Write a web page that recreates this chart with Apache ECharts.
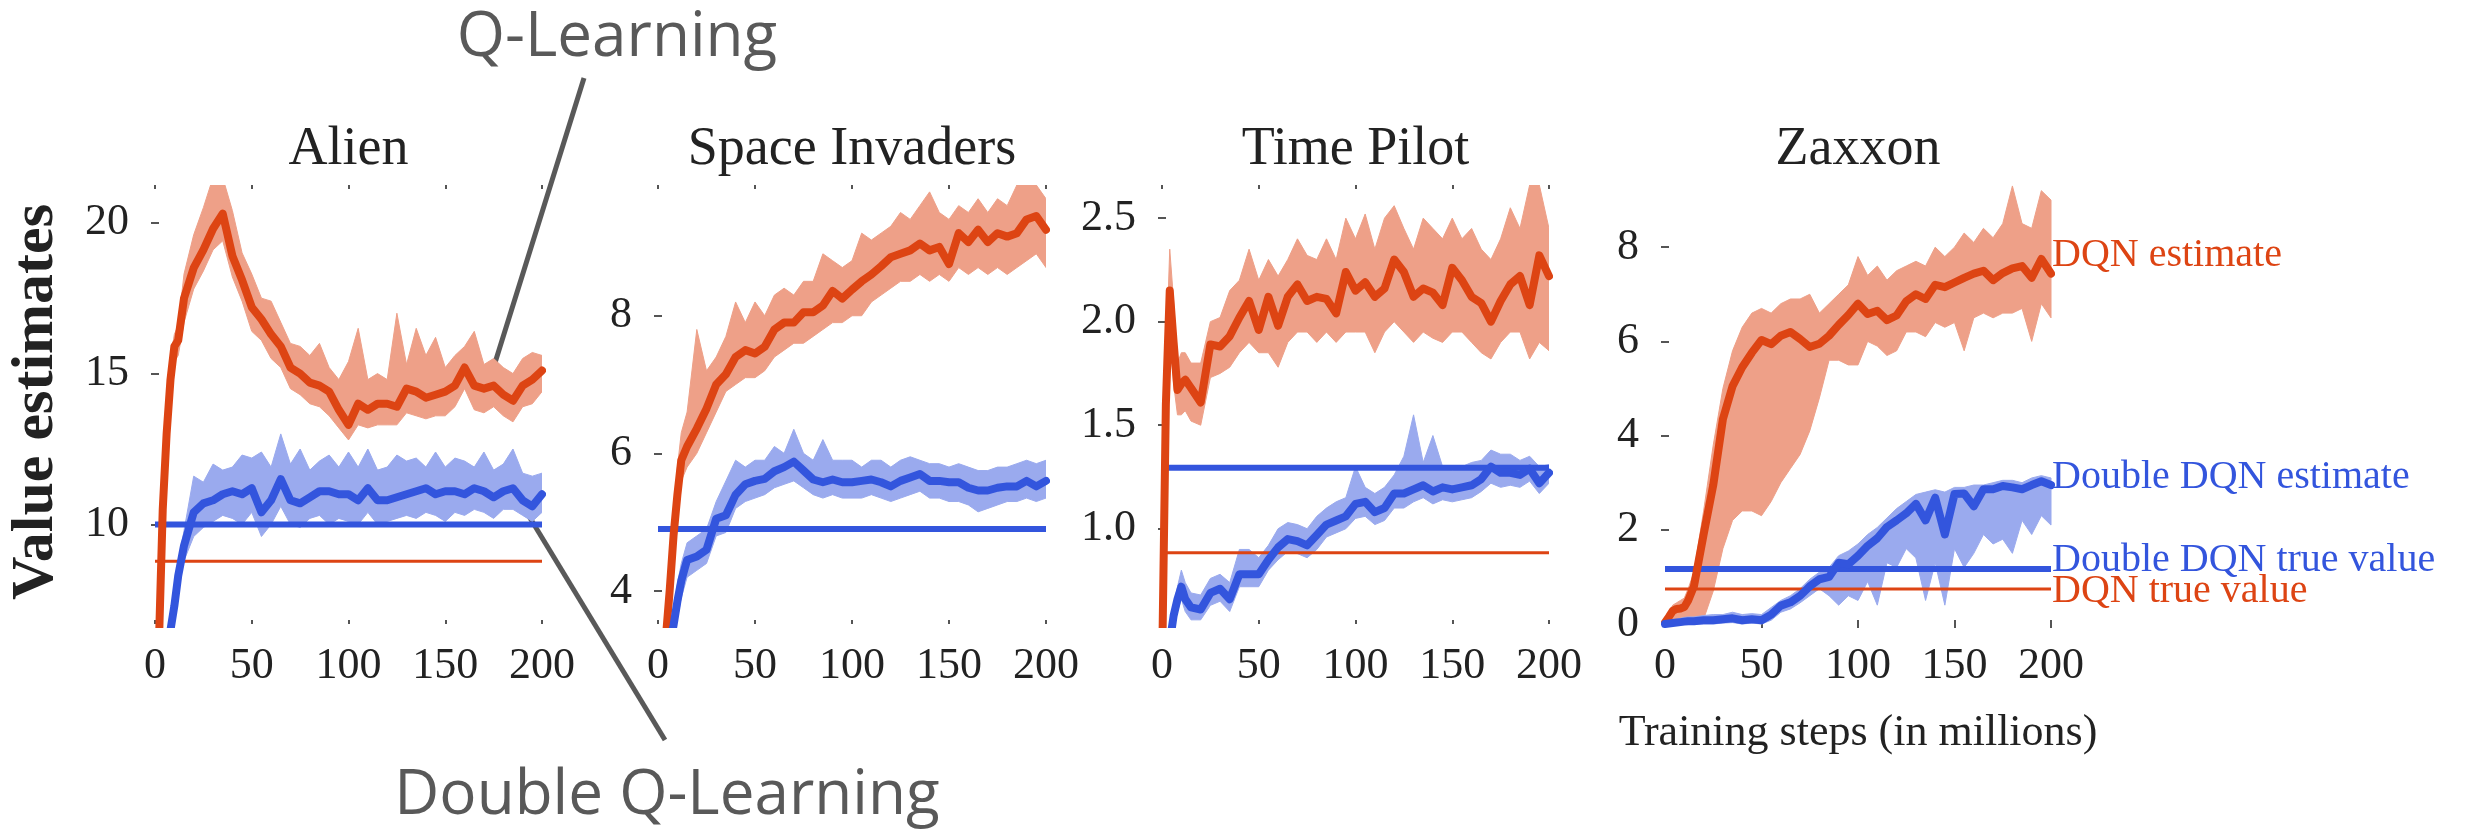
<!DOCTYPE html>
<html>
<head>
<meta charset="utf-8">
<title>Value estimates</title>
<script src="https://cdn.jsdelivr.net/npm/echarts@6/dist/echarts.min.js"></script>
<style>
  html, body { margin: 0; padding: 0; background: #fff; }
  #chart { width: 2474px; height: 834px; }
</style>
</head>
<body>
<div id="chart"></div>
<script>
// training steps (millions), shared by every curve
var steps = [0, 2, 4, 6, 8, 10, 12, 15,
  20, 25, 30, 35, 40, 45, 50, 55, 60,
  65, 70, 75, 80, 85, 90, 95, 100, 105,
  110, 115, 120, 125, 130, 135, 140, 145, 150,
  155, 160, 165, 170, 175, 180, 185, 190, 195, 200];

// Alien
var alienDqn = [2, 6.0, 10.5, 13.0, 14.8, 15.9, 16.1, 17.5,
  18.5, 19.1, 19.8, 20.3, 18.9, 18.1, 17.2, 16.8, 16.3,
  15.9, 15.2, 15.0, 14.7, 14.6, 14.4, 13.8, 13.3, 14.0,
  13.8, 14.0, 14.0, 13.9, 14.5, 14.4, 14.2, 14.3, 14.4,
  14.6, 15.2, 14.6, 14.5, 14.6, 14.3, 14.1, 14.6, 14.8, 15.1];
var alienDqnHi = [2.5, 6.5, 11.0, 13.7, 15.5, 16.3, 16.6, 18.3,
  19.6, 20.5, 21.5, 21.5, 20.4, 19.0, 18.3, 17.5, 17.4,
  16.7, 16.0, 15.9, 15.6, 16.0, 15.2, 14.8, 15.4, 16.5,
  14.8, 15.0, 14.8, 17.0, 15.3, 16.5, 15.6, 16.2, 15.2,
  15.6, 15.9, 16.4, 15.3, 15.5, 15.2, 15.0, 15.5, 15.7, 15.6];
var alienDqnLo = [1.5, 5.5, 10.0, 12.5, 14.2, 15.4, 15.6, 16.7,
  17.8, 18.4, 19.1, 19.4, 18.2, 17.4, 16.4, 16.1, 15.5,
  15.2, 14.5, 14.3, 14.0, 13.9, 13.6, 13.2, 12.8, 13.3,
  13.2, 13.3, 13.3, 13.3, 13.7, 13.6, 13.5, 13.6, 13.6,
  13.9, 14.5, 13.8, 13.7, 13.9, 13.6, 13.4, 13.9, 14.0, 14.4];
var alienDouble = [3, 4, 5, 5.8, 6.5, 7.3, 8.3, 9.3,
  10.4, 10.7, 10.8, 11.0, 11.1, 11.0, 11.2, 10.4, 10.8,
  11.5, 10.8, 10.7, 10.9, 11.1, 11.1, 11.0, 11.0, 10.8,
  11.2, 10.8, 10.8, 10.9, 11.0, 11.1, 11.2, 11.0, 11.1,
  11.1, 11.0, 11.2, 11.1, 10.9, 11.1, 11.2, 10.8, 10.6, 11.0];
var alienDoubleHi = [3.3, 4.3, 5.3, 6.1, 6.8, 7.6, 8.7, 9.8,
  11.6, 11.4, 12.0, 11.8, 11.9, 12.3, 12.2, 12.4, 11.9,
  13.0, 12.0, 12.5, 11.8, 12.1, 12.3, 11.9, 12.4, 11.9,
  12.5, 11.8, 11.9, 12.3, 12.1, 12.2, 11.9, 12.4, 11.9,
  12.2, 12.1, 11.9, 12.4, 11.8, 12.0, 12.5, 11.7, 11.6, 11.7];
var alienDoubleLo = [2.7, 3.7, 4.7, 5.5, 6.2, 7.0, 7.9, 8.8,
  9.6, 9.9, 10.1, 10.3, 10.2, 10.0, 10.4, 9.6, 10.0,
  10.6, 10.0, 9.9, 10.2, 10.3, 10.0, 10.2, 10.1, 10.0,
  10.4, 10.0, 10.1, 10.2, 10.3, 10.2, 10.4, 10.3, 10.1,
  10.4, 10.3, 10.5, 10.4, 10.2, 10.5, 10.5, 10.3, 10.1, 10.4];
var alienDqnTrue = 8.78;
var alienDoubleTrue = 10.0;
var alienYTicks = [10, 15, 20];

// Space Invaders
var invadersDqn = [1.5, 2.5, 3.3, 4.0, 4.8, 5.4, 5.9, 6.1,
  6.36, 6.65, 7.0, 7.15, 7.4, 7.5, 7.45, 7.55, 7.8,
  7.9, 7.9, 8.05, 8.05, 8.15, 8.36, 8.25, 8.38, 8.5,
  8.6, 8.72, 8.85, 8.9, 8.95, 9.05, 8.95, 9.0, 8.75,
  9.2, 9.07, 9.25, 9.07, 9.2, 9.15, 9.2, 9.4, 9.45, 9.25];
var invadersDqnHi = [1.8, 2.8, 3.6, 4.3, 5.1, 5.8, 6.3, 6.6,
  7.8, 7.2, 7.4, 7.7, 8.2, 7.9, 8.2, 8.0, 8.3,
  8.4, 8.3, 8.5, 8.5, 8.9, 8.8, 8.7, 8.8, 9.2,
  9.1, 9.2, 9.3, 9.5, 9.4, 9.6, 9.8, 9.5, 9.4,
  9.6, 9.5, 9.7, 9.5, 9.7, 9.6, 9.9, 9.9, 9.9, 9.7];
var invadersDqnLo = [1.2, 2.2, 3.0, 3.7, 4.5, 5.1, 5.6, 5.8,
  6.0, 6.3, 6.6, 6.9, 7.0, 7.1, 7.1, 7.2, 7.4,
  7.5, 7.6, 7.6, 7.7, 7.8, 7.9, 7.9, 8.0, 8.0,
  8.2, 8.3, 8.4, 8.5, 8.5, 8.6, 8.5, 8.6, 8.5,
  8.7, 8.6, 8.7, 8.6, 8.7, 8.6, 8.7, 8.8, 8.9, 8.7];
var invadersDouble = [1.5, 2.2, 2.8, 3.2, 3.5, 3.85, 4.15, 4.45,
  4.5, 4.6, 5.05, 5.1, 5.4, 5.55, 5.6, 5.63, 5.74,
  5.8, 5.88, 5.75, 5.62, 5.58, 5.62, 5.58, 5.58, 5.6,
  5.62, 5.58, 5.52, 5.6, 5.65, 5.7, 5.6, 5.6, 5.58,
  5.58, 5.5, 5.46, 5.46, 5.5, 5.52, 5.52, 5.6, 5.52, 5.6];
var invadersDoubleHi = [1.7, 2.4, 3.0, 3.4, 3.7, 4.1, 4.4, 4.7,
  4.8, 4.9, 5.3, 5.6, 5.9, 5.8, 5.9, 5.9, 6.1,
  6.0, 6.35, 6.0, 5.9, 6.2, 5.9, 5.9, 5.9, 5.8,
  5.9, 5.9, 5.8, 5.9, 5.95, 5.9, 5.85, 5.85, 5.8,
  5.85, 5.8, 5.75, 5.75, 5.8, 5.8, 5.85, 5.9, 5.85, 5.9];
var invadersDoubleLo = [1.3, 2.0, 2.6, 3.0, 3.3, 3.6, 3.9, 4.2,
  4.3, 4.4, 4.8, 4.85, 5.2, 5.3, 5.35, 5.4, 5.5,
  5.55, 5.6, 5.5, 5.4, 5.35, 5.4, 5.35, 5.35, 5.35,
  5.4, 5.35, 5.3, 5.35, 5.4, 5.45, 5.35, 5.35, 5.3,
  5.3, 5.25, 5.15, 5.2, 5.25, 5.3, 5.3, 5.35, 5.3, 5.35];
var invadersDqnTrue = 4.88;
var invadersDoubleTrue = 4.9;
var invadersYTicks = [4, 6, 8];

// Time Pilot
var pilotDqn = [0.3, 1.6, 2.15, 1.9, 1.67, 1.7, 1.72, 1.68,
  1.61, 1.89, 1.88, 1.93, 2.02, 2.1, 1.96, 2.12, 1.98,
  2.12, 2.18, 2.1, 2.12, 2.11, 2.04, 2.24, 2.15, 2.19,
  2.12, 2.16, 2.3, 2.24, 2.12, 2.16, 2.14, 2.08, 2.26,
  2.2, 2.12, 2.09, 2.0, 2.1, 2.18, 2.22, 2.08, 2.32, 2.22];
var pilotDqnHi = [0.4, 1.8, 2.35, 2.1, 1.8, 1.85, 1.85, 1.8,
  1.8, 2.0, 2.02, 2.15, 2.2, 2.35, 2.2, 2.3, 2.22,
  2.3, 2.4, 2.32, 2.3, 2.4, 2.3, 2.5, 2.4, 2.52,
  2.35, 2.5, 2.56, 2.45, 2.35, 2.5, 2.45, 2.4, 2.5,
  2.4, 2.45, 2.35, 2.3, 2.4, 2.55, 2.45, 2.66, 2.66, 2.45];
var pilotDqnLo = [0.2, 1.4, 1.95, 1.7, 1.55, 1.55, 1.57, 1.52,
  1.5, 1.73, 1.75, 1.78, 1.85, 1.9, 1.85, 1.85, 1.78,
  1.9, 1.95, 1.95, 1.9, 1.95, 1.9, 1.95, 1.95, 1.95,
  1.85, 1.95, 2.0, 1.95, 1.9, 1.95, 1.92, 1.9, 1.95,
  1.95, 1.9, 1.85, 1.82, 1.9, 1.95, 1.95, 1.82, 1.9, 1.86];
var pilotDouble = [0.2, 0.3, 0.45, 0.58, 0.66, 0.72, 0.66, 0.62,
  0.61, 0.69, 0.71, 0.66, 0.78, 0.78, 0.78, 0.85, 0.91,
  0.95, 0.94, 0.92, 0.97, 1.02, 1.04, 1.06, 1.12, 1.13,
  1.08, 1.1, 1.17, 1.17, 1.19, 1.21, 1.18, 1.2, 1.19,
  1.2, 1.21, 1.24, 1.3, 1.27, 1.27, 1.26, 1.29, 1.22, 1.27];
var pilotDoubleHi = [0.25, 0.35, 0.5, 0.63, 0.72, 0.8, 0.74, 0.69,
  0.68, 0.76, 0.78, 0.74, 0.9, 0.9, 0.86, 0.92, 1.0,
  1.03, 1.02, 1.0, 1.06, 1.1, 1.13, 1.15, 1.3, 1.2,
  1.17, 1.2, 1.26, 1.35, 1.55, 1.32, 1.45, 1.3, 1.28,
  1.3, 1.32, 1.33, 1.38, 1.36, 1.36, 1.33, 1.35, 1.3, 1.31];
var pilotDoubleLo = [0.15, 0.25, 0.4, 0.53, 0.6, 0.66, 0.6, 0.56,
  0.56, 0.63, 0.65, 0.6, 0.72, 0.72, 0.72, 0.8, 0.85,
  0.89, 0.88, 0.86, 0.9, 0.96, 0.98, 1.0, 1.05, 1.06,
  1.02, 1.04, 1.1, 1.1, 1.13, 1.15, 1.12, 1.14, 1.13,
  1.14, 1.15, 1.18, 1.22, 1.2, 1.21, 1.2, 1.23, 1.17, 1.22];
var pilotDqnTrue = 0.884;
var pilotDoubleTrue = 1.295;
var pilotYTicks = [1.0, 1.5, 2.0, 2.5];

// Zaxxon
var zaxxonDqn = [0.03, 0.15, 0.28, 0.32, 0.33, 0.36, 0.5, 0.8,
  1.9, 2.95, 4.35, 5.05, 5.45, 5.76, 6.03, 5.94, 6.12,
  6.2, 6.05, 5.88, 5.95, 6.12, 6.35, 6.56, 6.8, 6.58,
  6.65, 6.45, 6.55, 6.85, 7.0, 6.9, 7.2, 7.15, 7.25,
  7.35, 7.44, 7.5, 7.3, 7.45, 7.55, 7.6, 7.35, 7.75, 7.44];
var zaxxonDqnHi = [0.1, 0.25, 0.4, 0.45, 0.5, 0.55, 0.75, 1.1,
  2.4, 3.8, 5.0, 5.8, 6.3, 6.6, 6.7, 6.6, 6.8,
  6.9, 6.9, 7.0, 6.6, 6.8, 7.0, 7.2, 7.8, 7.4,
  7.6, 7.3, 7.5, 7.6, 7.7, 7.6, 8.0, 7.8, 8.0,
  8.3, 8.1, 8.4, 8.2, 8.5, 9.3, 8.5, 8.4, 9.2, 9.0];
var zaxxonDqnLo = [0.0, 0.05, 0.1, 0.1, 0.1, 0.1, 0.05, 0.05,
  0.1, 0.7, 1.6, 2.2, 2.4, 2.4, 2.3, 2.6, 3.0,
  3.3, 3.6, 4.1, 4.8, 5.6, 5.6, 5.5, 5.5, 6.0,
  5.9, 5.7, 5.8, 6.2, 6.2, 6.1, 6.4, 6.3, 6.4,
  5.8, 6.5, 6.6, 6.5, 6.6, 6.6, 6.7, 6.0, 6.8, 6.5];
var zaxxonDouble = [0.0, 0.01, 0.02, 0.03, 0.04, 0.05, 0.06, 0.06,
  0.08, 0.08, 0.1, 0.12, 0.08, 0.1, 0.08, 0.2, 0.39,
  0.46, 0.6, 0.8, 0.95, 1.0, 1.3, 1.27, 1.45, 1.66,
  1.82, 2.06, 2.2, 2.35, 2.55, 2.2, 2.68, 1.9, 2.76,
  2.77, 2.5, 2.86, 2.86, 2.93, 2.9, 2.86, 2.95, 3.03, 2.95];
var zaxxonDoubleHi = [0.05, 0.06, 0.08, 0.1, 0.12, 0.14, 0.15, 0.15,
  0.18, 0.2, 0.2, 0.25, 0.2, 0.22, 0.2, 0.35, 0.5,
  0.6, 0.75, 0.95, 1.1, 1.2, 1.45, 1.55, 1.7, 1.9,
  2.05, 2.25, 2.45, 2.6, 2.75, 2.8, 2.85, 2.8, 2.9,
  2.9, 2.95, 2.95, 3.0, 3.05, 3.05, 3.0, 3.1, 3.15, 3.1];
var zaxxonDoubleLo = [0, 0, 0, 0, 0, 0, 0, 0,
  0, 0, 0.02, 0.03, 0, 0.02, 0, 0.08, 0.25,
  0.32, 0.45, 0.6, 0.75, 0.6, 0.4, 0.6, 0.5, 0.9,
  0.4, 1.3, 1.2, 1.6, 1.4, 0.5, 1.3, 0.4, 1.6,
  1.2, 1.5, 1.9, 1.7, 1.8, 1.5, 2.2, 1.9, 2.3, 2.1];
var zaxxonDqnTrue = 0.745;
var zaxxonDoubleTrue = 1.17;
var zaxxonYTicks = [0, 2, 4, 6, 8];

var RED = '#dd4413';
var RED_LIGHT = '#eea088';
var BLUE = '#3355dd';
var BLUE_LIGHT = '#9aaaee';
var INK = '#222';
var SERIF = '"Liberation Serif", "DejaVu Serif", serif';

var panels = [
  { title: 'Alien', left: 155, width: 387, min: 6.7, max: 21.25, yTicks: alienYTicks,
    dqn: alienDqn, dqnHi: alienDqnHi, dqnLo: alienDqnLo,
    dbl: alienDouble, dblHi: alienDoubleHi, dblLo: alienDoubleLo,
    dqnTrue: alienDqnTrue, dblTrue: alienDoubleTrue, clip: true },
  { title: 'Space Invaders', left: 658, width: 388, min: 3.52, max: 9.9, yTicks: invadersYTicks,
    dqn: invadersDqn, dqnHi: invadersDqnHi, dqnLo: invadersDqnLo,
    dbl: invadersDouble, dblHi: invadersDoubleHi, dblLo: invadersDoubleLo,
    dqnTrue: invadersDqnTrue, dblTrue: invadersDoubleTrue, clip: true },
  { title: 'Time Pilot', left: 1162, width: 387, min: 0.54, max: 2.66, yTicks: pilotYTicks, decimals: 1,
    dqn: pilotDqn, dqnHi: pilotDqnHi, dqnLo: pilotDqnLo,
    dbl: pilotDouble, dblHi: pilotDoubleHi, dblLo: pilotDoubleLo,
    dqnTrue: pilotDqnTrue, dblTrue: pilotDoubleTrue, clip: true },
  { title: 'Zaxxon', left: 1665, width: 386, min: 0, max: 9.32, yTicks: zaxxonYTicks,
    dqn: zaxxonDqn, dqnHi: zaxxonDqnHi, dqnLo: zaxxonDqnLo,
    dbl: zaxxonDouble, dblHi: zaxxonDoubleHi, dblLo: zaxxonDoubleLo,
    dqnTrue: zaxxonDqnTrue, dblTrue: zaxxonDoubleTrue, clip: false }
];

var GRID_TOP = 185;
var GRID_HEIGHT = 439;

var tick = { show: true, inside: true, length: 4, lineStyle: { color: '#555', width: 2 } };

function xAxisFor(i, position) {
  return {
    gridIndex: i, type: 'value', position: position,
    min: 0, max: 200, interval: 50,
    axisLine: { show: false },
    axisTick: tick,
    splitLine: { show: false },
    axisLabel: {
      show: position === 'bottom',
      fontSize: 44, fontFamily: SERIF, color: INK, margin: 20
    }
  };
}

function yAxisFor(i, p, position) {
  return {
    gridIndex: i, type: 'value', position: position,
    min: p.min, max: p.max,
    axisLine: { show: false },
    axisTick: Object.assign({ customValues: p.yTicks }, tick),
    splitLine: { show: false },
    axisLabel: {
      show: position === 'left',
      customValues: p.yTicks,
      fontSize: 44, fontFamily: SERIF, color: INK, margin: 26,
      formatter: function (v) { return p.decimals ? v.toFixed(p.decimals) : String(v); }
    }
  };
}

function pairs(values) {
  return steps.map(function (s, k) { return [s, values[k]]; });
}

// min/max envelope drawn as one polygon through the axis scales
function band(i, lo, hi, color, clip) {
  return {
    type: 'custom', xAxisIndex: 2 * i, yAxisIndex: 2 * i,
    clip: clip, silent: true,
    data: steps.map(function (s, k) { return [s, lo[k], hi[k]]; }),
    encode: { x: 0, y: [1, 2] },
    renderItem: function (params, api) {
      if (params.dataIndex !== 0) return null;
      var pts = [];
      for (var k = 0; k < steps.length; k++) pts.push(api.coord([steps[k], hi[k]]));
      for (var j = steps.length - 1; j >= 0; j--) pts.push(api.coord([steps[j], lo[j]]));
      return {
        type: 'polygon',
        shape: { points: pts },
        style: { fill: color, stroke: color, lineWidth: 1 }
      };
    }
  };
}

function curve(i, values, color, width, clip) {
  return {
    type: 'line', xAxisIndex: 2 * i, yAxisIndex: 2 * i,
    data: pairs(values), symbol: 'none', silent: true, clip: clip,
    lineStyle: { color: color, width: width, join: 'round', cap: 'round' }
  };
}

function flat(i, v, color, width) {
  return {
    type: 'line', xAxisIndex: 2 * i, yAxisIndex: 2 * i,
    data: [[0, v], [200, v]], symbol: 'none', silent: true,
    lineStyle: { color: color, width: width }
  };
}

var grids = [], xAxes = [], yAxes = [], series = [], graphics = [];

panels.forEach(function (p, i) {
  grids.push({ left: p.left, width: p.width, top: GRID_TOP, height: GRID_HEIGHT });
  xAxes.push(xAxisFor(i, 'bottom'), xAxisFor(i, 'top'));
  yAxes.push(yAxisFor(i, p, 'left'), yAxisFor(i, p, 'right'));

  series.push(band(i, p.dqnLo, p.dqnHi, RED_LIGHT, p.clip));
  series.push(band(i, p.dblLo, p.dblHi, BLUE_LIGHT, p.clip));
  series.push(flat(i, p.dqnTrue, RED, 3));
  series.push(flat(i, p.dblTrue, BLUE, 6));
  series.push(curve(i, p.dqn, RED, 8, p.clip));
  series.push(curve(i, p.dbl, BLUE, 8, p.clip));

  graphics.push({
    type: 'text', x: p.left + p.width / 2, y: 150,
    style: { text: p.title, fill: INK, font: '54px ' + SERIF, textAlign: 'center', textVerticalAlign: 'middle' }
  });
});

// y axis name and x axis name
graphics.push({
  type: 'text', x: 36, y: 402, rotation: Math.PI / 2,
  style: { text: 'Value estimates', fill: INK, font: 'bold 60px ' + SERIF, textAlign: 'center', textVerticalAlign: 'middle' }
});
graphics.push({
  type: 'text', x: 1858, y: 733,
  style: { text: 'Training steps (in millions)', fill: INK, font: '44px ' + SERIF, textAlign: 'center', textVerticalAlign: 'middle' }
});

// labels at the right of Zaxxon
[
  ['DQN estimate', 255, RED],
  ['Double DQN estimate', 477, BLUE],
  ['Double DQN true value', 560, BLUE],
  ['DQN true value', 591, RED]
].forEach(function (l) {
  graphics.push({
    type: 'text', x: 2052, y: l[1],
    style: { text: l[0], fill: l[2], font: '40px ' + SERIF, textAlign: 'left', textVerticalAlign: 'middle' }
  });
});

// callouts
var CALLOUT = '#595959';
var CALLOUT_FONT = '62px "Open Sans", "Noto Sans", sans-serif';
graphics.push(
  { type: 'text', x: 617, y: 38,
    style: { text: 'Q-Learning', fill: CALLOUT, font: CALLOUT_FONT, textAlign: 'center', textVerticalAlign: 'middle' } },
  { type: 'line', shape: { x1: 584, y1: 78, x2: 494, y2: 366 },
    style: { stroke: CALLOUT, lineWidth: 5 } },
  { type: 'line', shape: { x1: 527, y1: 513, x2: 665, y2: 740 },
    style: { stroke: CALLOUT, lineWidth: 5 } },
  { type: 'text', x: 667, y: 796,
    style: { text: 'Double Q-Learning', fill: CALLOUT, font: CALLOUT_FONT, textAlign: 'center', textVerticalAlign: 'middle' } }
);

var chart = echarts.init(document.getElementById('chart'), null, { renderer: 'canvas' });
chart.setOption({
  backgroundColor: '#fff',
  animation: false,
  grid: grids,
  xAxis: xAxes,
  yAxis: yAxes,
  series: series,
  graphic: graphics
});
</script>
</body>
</html>
